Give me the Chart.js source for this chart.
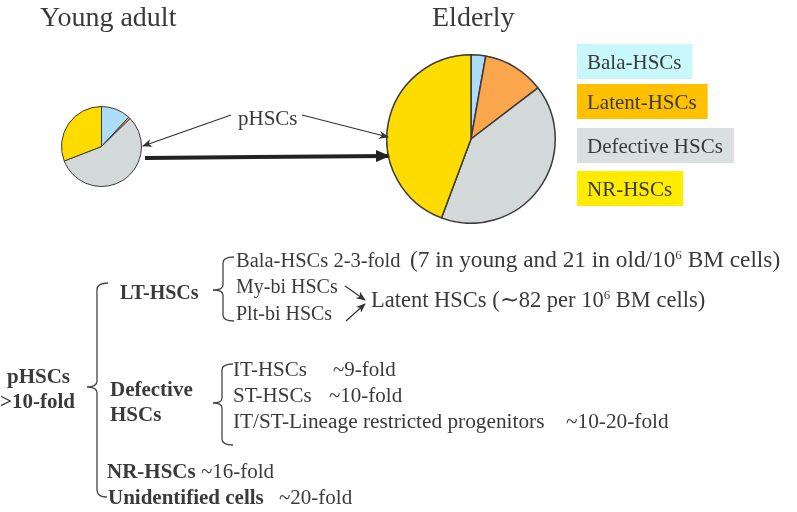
<!DOCTYPE html>
<html><head><meta charset="utf-8">
<script src="https://cdn.jsdelivr.net/npm/chart.js@4.4.1/dist/chart.umd.min.js"></script>
<style>
html,body{margin:0;padding:0;background:#fff;}
#wrap{position:relative;width:797px;height:512px;overflow:hidden;background:#fff;}
canvas.pie{position:absolute;}
#ov{position:absolute;left:0;top:0;}
</style></head><body>
<div id="wrap">
<canvas id="young" class="pie" width="81" height="81" style="left:61px;top:106px"></canvas>
<canvas id="elderly" class="pie" width="170" height="170" style="left:386px;top:54px"></canvas>
<svg id="ov" width="797" height="512" xmlns="http://www.w3.org/2000/svg">
<defs>
<marker id="ah" markerWidth="10" markerHeight="8" refX="9" refY="4" orient="auto" markerUnits="userSpaceOnUse">
<path d="M0,0 L10,4 L0,8 L3,4 z" fill="#333"/></marker>
<marker id="ahb" markerWidth="14" markerHeight="12" refX="12" refY="6" orient="auto" markerUnits="userSpaceOnUse">
<path d="M0,0 L14,6 L0,12 z" fill="#222"/></marker>
</defs>
<g id="titles"></g>
<g id="legend"></g>
<g id="label"></g>
<line x1="231" y1="115" x2="143" y2="146" stroke="#333" stroke-width="1.2" marker-end="url(#ah)"/>
<line x1="302" y1="115" x2="388" y2="137" stroke="#333" stroke-width="1.2" marker-end="url(#ah)"/>
<line x1="145" y1="158" x2="388" y2="156" stroke="#222" stroke-width="4" marker-end="url(#ahb)"/>
<g fill="none" stroke="#444" stroke-width="1.3">
<path d="M108,283 Q97,283 97,290 L97,381 Q97,387 87,387 Q97,387 97,393 L97,490 Q97,497 107,497"/>
<path d="M234,257 Q223,257 223,263 L223,285 Q223,290 213,290 Q223,290 223,295 L223,315 Q223,321 234,321"/>
<path d="M233,364 Q222,364 222,370 L222,398 Q222,403 213,403 Q222,403 222,408 L222,439 Q222,445 233,445"/>
</g>
<line x1="345" y1="286" x2="365" y2="300" stroke="#333" stroke-width="1.2" marker-end="url(#ah)"/>
<line x1="346" y1="321" x2="365" y2="304" stroke="#333" stroke-width="1.2" marker-end="url(#ah)"/>
<g id="lower"></g>
</svg>
</div>
<script>
// ---- data ----
const categories = ['Bala-HSCs', 'Latent-HSCs', 'Defective HSCs', 'NR-HSCs'];
const youngValues = [11.9, 0.8, 56.4, 30.9];
const elderlyValues = [2.8, 11.8, 41.1, 44.3];
const groupTitles = ['Young adult', 'Elderly'];
const pieColors = ['#acdcf7', '#f9a64c', '#d3d8d8', '#ffdc00'];
const legendColors = ['#c9f8fc', '#ffc000', '#dadfdf', '#ffec00'];

function makePie(id, values, bw) {
  new Chart(document.getElementById(id), {
    type: 'pie',
    data: { labels: categories, datasets: [{ data: values, backgroundColor: pieColors,
      borderColor: '#3a3a3a', borderWidth: bw, hoverOffset: 0, offset: 0 }] },
    options: { responsive: false, animation: false, devicePixelRatio: 1,
      layout: { padding: 0 },
      plugins: { legend: { display: false }, tooltip: { enabled: false } },
      events: [] }
  });
}
makePie('young', youngValues, 1);
makePie('elderly', elderlyValues, 1.5);

const NS = 'http://www.w3.org/2000/svg';
const FONT = "Liberation Serif";
function txt(parent, x, y, size, content, bold) {
  const t = document.createElementNS(NS, 'text');
  t.setAttribute('x', x); t.setAttribute('y', y); t.setAttribute('font-size', size);
  t.setAttribute('font-family', FONT);
  t.setAttribute('fill', '#3a3a3a');
  if (bold) t.setAttribute('font-weight', 'bold');
  t.innerHTML = content;
  parent.appendChild(t);
  return t;
}
// titles
const tg = document.getElementById('titles');
txt(tg, 40, 26, 28, groupTitles[0]);
txt(tg, 432, 26, 28, groupTitles[1]);
txt(document.getElementById('label'), 238, 125, 21, 'pHSCs');

// legend from categories
const lg = document.getElementById('legend');
const legTops = [44, 84, 128, 171];
categories.forEach((c, i) => {
  const r = document.createElementNS(NS, 'rect');
  lg.appendChild(r);
  const t = txt(lg, 587, legTops[i] + 25, 21, c);
  const w = t.getComputedTextLength();
  r.setAttribute('x', 577); r.setAttribute('y', legTops[i]);
  r.setAttribute('width', w + 21); r.setAttribute('height', 35);
  r.setAttribute('fill', legendColors[i]);
});

// lower annotation text
const lo = document.getElementById('lower');
const sup = '<tspan dy="-8" font-size="13">6</tspan><tspan dy="8"> BM cells)</tspan>';
txt(lo, 236, 267, 20.5, 'Bala-HSCs 2-3-fold<tspan x="410" font-size="23.3">(7 in young and 21 in old/10' + sup + '</tspan>');
txt(lo, 236, 293, 20, 'My-bi HSCs');
txt(lo, 236, 320, 20, 'Plt-bi HSCs');
txt(lo, 371, 307, 22.5, 'Latent HSCs (∼82 per 10' + sup);
txt(lo, 120, 299, 20, 'LT-HSCs', true);
txt(lo, 7, 383, 21, 'pHSCs', true);
txt(lo, 0, 408, 21, '&gt;10-fold', true);
txt(lo, 110, 396, 21, 'Defective', true);
txt(lo, 110, 421, 21, 'HSCs', true);
txt(lo, 233, 376, 21, 'IT-HSCs<tspan x="333">~9-fold</tspan>');
txt(lo, 233, 402, 21, 'ST-HSCs<tspan x="329">~10-fold</tspan>');
txt(lo, 233, 428, 21.3, 'IT/ST-Lineage restricted progenitors<tspan x="566">~10-20-fold</tspan>');
txt(lo, 107, 478, 21, '<tspan font-weight="bold">NR-HSCs</tspan> ~16-fold');
txt(lo, 108, 504, 21, '<tspan font-weight="bold">Unidentified cells</tspan><tspan x="279">~20-fold</tspan>');
</script>
</body></html>
